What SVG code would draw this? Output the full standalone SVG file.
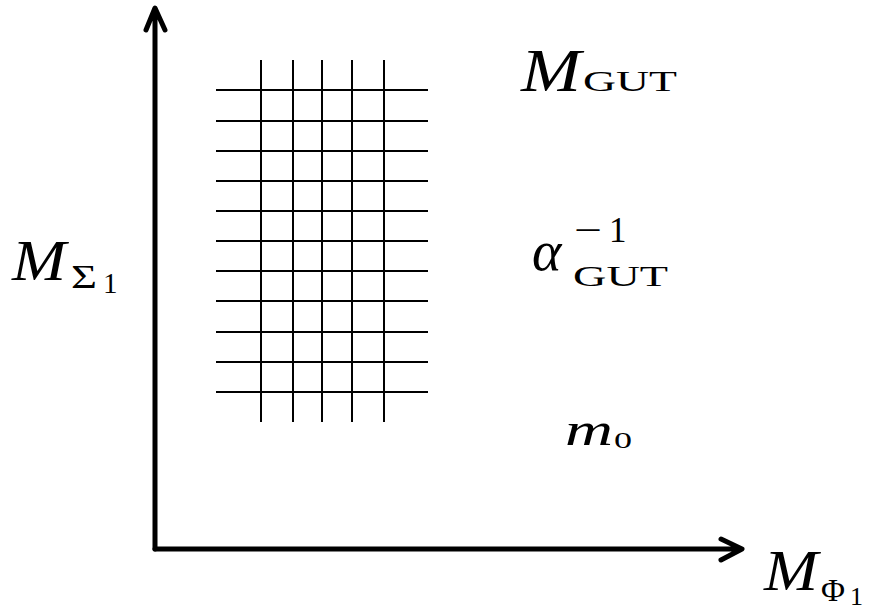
<svg xmlns="http://www.w3.org/2000/svg" width="874" height="613" viewBox="0 0 874 613">
<style>
.g{stroke:#000;stroke-width:2;fill:none}
.ax{stroke:#000;stroke-width:5;fill:none;stroke-linecap:round;stroke-linejoin:round}
.t{font-family:"Liberation Serif","Times New Roman",serif;fill:#000}
.i{font-style:italic}
</style>
<rect width="874" height="613" fill="#fff"/>
<g id="grid">
<path class="g" d="M216 90H428M216 121H428M216 151H428M216 181H428M216 211H428M216 241H428M216 271H428M216 301H428M216 332H428M216 362H428M216 392H428"/>
<path class="g" d="M261 60V422M293 60V422M322 60V422M352 60V422M384 60V422"/>
</g>
<g id="axes">
<path class="ax" d="M155 549V9M146 30L155 8L165 30"/>
<path class="ax" d="M155 549H740M721 539L742 549L721 560"/>
</g>
<g id="label-mgut">
<text class="t" y="91"><tspan class="i" x="521" font-size="61" textLength="60" lengthAdjust="spacingAndGlyphs">M</tspan><tspan x="583" font-size="29" textLength="94" lengthAdjust="spacingAndGlyphs">GUT</tspan></text>
</g>
<g id="label-alpha">
<text class="t i" x="532" y="270" font-size="56">α</text>
<text class="t" y="242" font-size="35"><tspan x="574" textLength="28" lengthAdjust="spacingAndGlyphs">−</tspan><tspan x="609">1</tspan></text>
<text class="t" x="573" y="286" font-size="29" textLength="95" lengthAdjust="spacingAndGlyphs">GUT</text>
</g>
<g id="label-m0">
<text class="t i" x="565" y="445" font-size="46" textLength="48" lengthAdjust="spacingAndGlyphs">m</text>
<text class="t" x="614" y="448" font-size="24" textLength="18" lengthAdjust="spacingAndGlyphs">0</text>
</g>
<g id="label-msigma">
<text class="t" y="280"><tspan class="i" x="12" font-size="57" textLength="54" lengthAdjust="spacingAndGlyphs">M</tspan><tspan x="71" y="288" font-size="33" textLength="26" lengthAdjust="spacingAndGlyphs">Σ</tspan><tspan x="103" y="293" font-size="29">1</tspan></text>
</g>
<g id="label-mphi">
<text class="t" y="590"><tspan class="i" x="764" font-size="57" textLength="54" lengthAdjust="spacingAndGlyphs">M</tspan><tspan x="821" y="601" font-size="31" textLength="24" lengthAdjust="spacingAndGlyphs">Φ</tspan><tspan x="850" y="605" font-size="26">1</tspan></text>
</g>
</svg>
